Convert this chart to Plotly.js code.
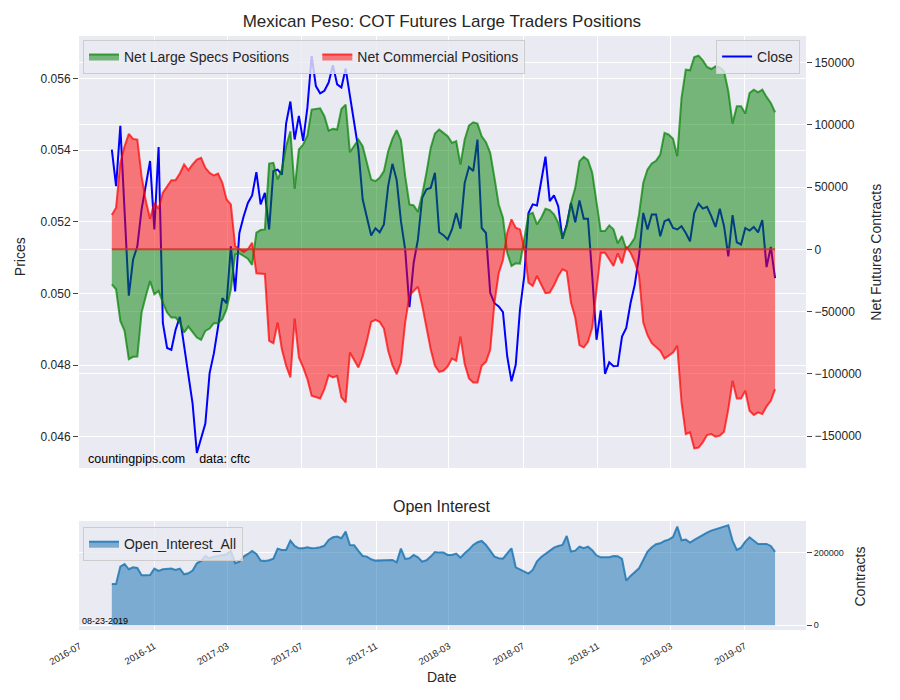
<!DOCTYPE html>
<html>
<head>
<meta charset="utf-8">
<script src="https://cdn.plot.ly/plotly-3.0.1.min.js"></script>
<style>
  body { margin: 0; background: #ffffff; }
  #chart { width: 900px; height: 700px; }
</style>
</head>
<body>
<div id="chart"></div>
<script>
// weekly COT report dates (Tuesdays)
const dates = [
  "2016-08-23", "2016-08-30", "2016-09-06", "2016-09-13", "2016-09-20", "2016-09-27", "2016-10-04", "2016-10-11",
  "2016-10-18", "2016-10-25", "2016-11-01", "2016-11-08", "2016-11-15", "2016-11-22", "2016-11-29", "2016-12-06",
  "2016-12-13", "2016-12-20", "2016-12-27",
  "2017-01-03", "2017-01-10", "2017-01-17", "2017-01-24", "2017-01-31", "2017-02-07", "2017-02-14", "2017-02-21",
  "2017-02-28", "2017-03-07", "2017-03-14", "2017-03-21", "2017-03-28", "2017-04-04", "2017-04-11", "2017-04-18",
  "2017-04-25", "2017-05-02", "2017-05-09", "2017-05-16", "2017-05-23", "2017-05-30", "2017-06-06", "2017-06-13",
  "2017-06-20", "2017-06-27", "2017-07-04", "2017-07-11", "2017-07-18", "2017-07-25", "2017-08-01", "2017-08-08",
  "2017-08-15", "2017-08-22", "2017-08-29", "2017-09-05", "2017-09-12", "2017-09-19", "2017-09-26", "2017-10-03",
  "2017-10-10", "2017-10-17", "2017-10-24", "2017-10-31", "2017-11-07", "2017-11-14", "2017-11-21", "2017-11-28",
  "2017-12-05", "2017-12-12", "2017-12-19", "2017-12-26",
  "2018-01-02", "2018-01-09", "2018-01-16", "2018-01-23", "2018-01-30", "2018-02-06", "2018-02-13", "2018-02-20",
  "2018-02-27", "2018-03-06", "2018-03-13", "2018-03-20", "2018-03-27", "2018-04-03", "2018-04-10", "2018-04-17",
  "2018-04-24", "2018-05-01", "2018-05-08", "2018-05-15", "2018-05-22", "2018-05-29", "2018-06-05", "2018-06-12",
  "2018-06-19", "2018-06-26", "2018-07-03", "2018-07-10", "2018-07-17", "2018-07-24", "2018-07-31", "2018-08-07",
  "2018-08-14", "2018-08-21", "2018-08-28", "2018-09-04", "2018-09-11", "2018-09-18", "2018-09-25", "2018-10-02",
  "2018-10-09", "2018-10-16", "2018-10-23", "2018-10-30", "2018-11-06", "2018-11-13", "2018-11-20", "2018-11-27",
  "2018-12-04", "2018-12-11", "2018-12-18", "2018-12-25",
  "2019-01-01", "2019-01-08", "2019-01-15", "2019-01-22", "2019-01-29", "2019-02-05", "2019-02-12", "2019-02-19",
  "2019-02-26", "2019-03-05", "2019-03-12", "2019-03-19", "2019-03-26", "2019-04-02", "2019-04-09", "2019-04-16",
  "2019-04-23", "2019-04-30", "2019-05-07", "2019-05-14", "2019-05-21", "2019-05-28", "2019-06-04", "2019-06-11",
  "2019-06-18", "2019-06-25", "2019-07-02", "2019-07-09", "2019-07-16", "2019-07-23", "2019-07-30", "2019-08-06",
  "2019-08-13", "2019-08-20",
];

// MXN futures close
const closePrice = [
  0.05402, 0.05300, 0.05468, 0.05235, 0.04994, 0.05095, 0.05132, 0.05235, 0.05300, 0.05370,
  0.05179, 0.05409, 0.04918, 0.04848, 0.04843, 0.04899, 0.04935, 0.04853, 0.04778, 0.04693,
  0.04555, 0.04596, 0.04637, 0.04778, 0.04833, 0.04908, 0.04987, 0.04973, 0.05132, 0.05006,
  0.05169, 0.05215, 0.05253, 0.05274, 0.05339, 0.05249, 0.05281, 0.05179, 0.05342, 0.05346,
  0.05332, 0.05475, 0.05536, 0.05430, 0.05496, 0.05426, 0.05519, 0.05663, 0.05579, 0.05559,
  0.05566, 0.05589, 0.05637, 0.05584, 0.05575, 0.05628, 0.05550, 0.05475, 0.05402, 0.05263,
  0.05211, 0.05162, 0.05182, 0.05171, 0.05193, 0.05300, 0.05362, 0.05317, 0.05202, 0.05123,
  0.04962, 0.05086, 0.05151, 0.05267, 0.05291, 0.05295, 0.05337, 0.05171, 0.05163, 0.05151,
  0.05179, 0.05225, 0.05181, 0.05309, 0.05353, 0.05342, 0.05430, 0.05183, 0.05169, 0.05002,
  0.04973, 0.04964, 0.04948, 0.04825, 0.04755, 0.04801, 0.04955, 0.05048, 0.05225, 0.05249,
  0.05246, 0.05319, 0.05382, 0.05258, 0.05274, 0.05244, 0.05153, 0.05193, 0.05253, 0.05199,
  0.05260, 0.05209, 0.05209, 0.05048, 0.04871, 0.04953, 0.04776, 0.04808, 0.04797, 0.04798,
  0.04880, 0.04904, 0.04973, 0.05025, 0.05104, 0.05225, 0.05179, 0.05221, 0.05221, 0.05160,
  0.05202, 0.05207, 0.05183, 0.05179, 0.05188, 0.05169, 0.05146, 0.05225, 0.05251, 0.05237,
  0.05242, 0.05216, 0.05186, 0.05237, 0.05188, 0.05104, 0.05219, 0.05143, 0.05137, 0.05183,
  0.05176, 0.05186, 0.05171, 0.05205, 0.05074, 0.05130, 0.05043,
];

// net large speculator positions (contracts)
const netSpecs = [
  -28077, -32088, -57491, -65513, -88242, -86370, -86100, -50806, -37436, -25403,
  -36099, -33425, -42784, -50806, -54817, -54817, -58828, -66850, -62037, -66315,
  -70861, -72733, -65513, -63641, -59363, -59363, -56154, -48132, -32088, -4011,
  -3209, -5348, -7487, -12568, 13370, 15509, 16044, 68989, 69524, 56154,
  64176, 82894, 94927, 48667, 80220, 84231, 91451, 112308, 112843, 113378,
  106960, 95462, 96799, 96264, 112843, 116319, 78081, 82894, 88242, 82894,
  70059, 56154, 54817, 57491, 62839, 78883, 88777, 95729, 87707, 58828,
  36099, 35297, 29949, 44121, 61502, 81557, 93055, 96264, 93590, 90916,
  85568, 86905, 68187, 88242, 99473, 102147, 101077, 90916, 86103, 77546,
  57491, 36099, 25403, -2674, -13370, -11231, -11498, 6685, 28077, 29414,
  20055, 25403, 32623, 31553, 28077, 21392, 9359, 18718, 37436, 49469,
  70861, 74337, 71663, 61502, 37436, 14707, 14707, 19253, 16044, 4813,
  10696, 0, 4011, 9359, 28077, 53480, 64176, 68989, 71128, 76209,
  93590, 92253, 88777, 74872, 121667, 144396, 143861, 154557, 155627, 151883,
  146535, 144931, 147070, 146268, 143059, 127015, 101077, 114982, 114982, 109099,
  125678, 128352, 126213, 128352, 122469, 117656, 110169,
];

// net commercial positions (contracts)
const netCommercial = [
  27542, 33425, 69524, 82894, 92788, 88777, 88242, 58828, 38773, 24601,
  37436, 32623, 45458, 50806, 55619, 55619, 60967, 68187, 63641, 68187,
  72198, 73535, 65513, 61502, 59363, 60967, 53480, 40110, 36099, 2674,
  0, -2139, 0, 5348, -19253, -19253, -19788, -73535, -75407, -58828,
  -80220, -93590, -102949, -55619, -86905, -94927, -104286, -117656, -118993, -119795,
  -112308, -101077, -102949, -101612, -118993, -123004, -82894, -88777, -94927, -86103,
  -73535, -58293, -56689, -58293, -63641, -81557, -93055, -100275, -90916, -58828,
  -36901, -33425, -29949, -44923, -63641, -80220, -93590, -98403, -97601, -94000,
  -87707, -89579, -70059, -92253, -103751, -106960, -106960, -93590, -90381, -80755,
  -42784, -19253, -8557, 13370, 24066, 17381, 16044, 1337, -26740, -29414,
  -21392, -28879, -35297, -34762, -28879, -21392, -16044, -17648, -42784, -54817,
  -77011, -78883, -74337, -62839, -32088, -2674, -2674, -8557, -13370, -3209,
  -11231, 2139, -2674, -10161, -20857, -58828, -68989, -75407, -78883, -81557,
  -87707, -85568, -82894, -77546, -123004, -148407, -147070, -159905, -159370, -155092,
  -149209, -148407, -150546, -149744, -146535, -128352, -105623, -119795, -119795, -113645,
  -129689, -133165, -131026, -132363, -126213, -121667, -112308,
];

// total open interest (contracts)
const openInterest = [
  113758, 113758, 161462, 168802, 154123, 159628, 157793, 137610, 137610, 138527,
  155958, 149536, 154123, 155958, 155958, 152288, 155958, 140362, 143114, 150454,
  170636, 177058, 190819, 184397, 188984, 190819, 192654, 195406, 205498, 170636,
  175223, 188984, 196324, 204580, 196324, 177976, 177058, 178893, 183480, 211002,
  207332, 207332, 233020, 218341, 211919, 211919, 214672, 211919, 212837, 214672,
  219259, 234854, 242194, 244028, 239441, 257789, 221093, 220176, 204580, 190819,
  188984, 181645, 177976, 177976, 177976, 179810, 179810, 173389, 211002, 182563,
  184397, 193571, 187150, 175223, 178893, 188984, 201828, 199993, 199993, 193571,
  193571, 197241, 186232, 198158, 208250, 221093, 228433, 232102, 221093, 205498,
  188984, 184397, 183480, 198158, 211919, 159628, 153206, 148619, 142197, 152288,
  176141, 188067, 197241, 206415, 213754, 218341, 221093, 245863, 202745, 205498,
  216506, 211919, 216506, 206415, 192654, 187150, 187150, 187150, 190819, 189901,
  182563, 122932, 135775, 147701, 156875, 179810, 202745, 214672, 222928, 225680,
  232102, 235772, 243111, 271550, 233937, 235772, 227515, 234854, 242194, 248615,
  255037, 260542, 264211, 266963, 271550, 275220, 233020, 207332, 213754, 230267,
  242194, 232102, 223846, 223846, 223846, 218341, 201828,
];

const priceTicks = [0.046, 0.048, 0.05, 0.052, 0.054, 0.056];
const oiTicks = [0, 200000];

const FONT = "Liberation Sans, Arial, sans-serif";
const TXT = "#262626";
const BG = "#eaeaf2";

let closeTrace = {
  x: dates,
  y: closePrice,
  xaxis: "x",
  yaxis: "y",
  mode: "lines",
  type: "scatter",
  name: "Close",
  legend: "legend2",
  line: { color: "#0000ff", width: 2 },
};

let specsTrace = {
  x: dates,
  y: netSpecs,
  xaxis: "x",
  yaxis: "y2",
  mode: "lines",
  type: "scatter",
  fill: "tozeroy",
  // trailing spaces widen the gap to the next legend entry
  name: "Net Large Specs Positions&nbsp;&nbsp;&nbsp;&nbsp;&nbsp;&nbsp;",
  fillcolor: "rgba(0,128,0,0.5)",
  line: { color: "rgba(0,128,0,0.7)", width: 2 },
};

let commTrace = {
  x: dates,
  y: netCommercial,
  xaxis: "x",
  yaxis: "y2",
  mode: "lines",
  type: "scatter",
  fill: "tozeroy",
  name: "Net Commercial Positions",
  fillcolor: "rgba(255,0,0,0.5)",
  line: { color: "rgba(255,0,0,0.7)", width: 2 },
};

let oiTrace = {
  x: dates,
  y: openInterest,
  xaxis: "x2",
  yaxis: "y3",
  mode: "lines",
  type: "scatter",
  fill: "tozeroy",
  name: "Open_Interest_All",
  legend: "legend3",
  fillcolor: "rgba(31,119,180,0.55)",
  line: { color: "rgba(31,119,180,0.85)", width: 2 },
};

const xRange = ["2016-06-30", "2019-10-10"];
const xDomain = [0.0878, 0.8956];

let legendStyle = {
  orientation: "h",
  xanchor: "left",
  yanchor: "top",
  bgcolor: "rgba(234,234,242,0.8)",
  bordercolor: "#cccccc",
  borderwidth: 1,
  font: { family: FONT, size: 14, color: TXT },
};

// helper for free text placed in paper coordinates
const label = (text, x, y, size, extra) => ({
  text: text,
  xref: "paper",
  yref: "paper",
  x: x,
  y: y,
  xanchor: "center",
  yanchor: "middle",
  showarrow: false,
  font: { family: FONT, size: size, color: TXT },
  ...extra,
});

let layout = {
  width: 900,
  height: 700,
  margin: { l: 0, r: 0, t: 0, b: 0 },
  paper_bgcolor: "#ffffff",
  plot_bgcolor: BG,
  font: { family: FONT, color: TXT },
  title: {
    text: "Mexican Peso: COT Futures Large Traders Positions",
    x: 0.491,
    y: 0.97,
    xanchor: "center",
    yanchor: "middle",
    font: { family: FONT, size: 17, color: TXT },
  },
  showlegend: true,
  legend: { ...legendStyle, x: 0.0922, y: 0.943 },
  legend2: { ...legendStyle, x: 0.889, xanchor: "right", y: 0.943 },
  legend3: { ...legendStyle, x: 0.0922, y: 0.247 },
  xaxis: {
    domain: xDomain,
    anchor: "y",
    type: "date",
    range: xRange,
    tick0: "2016-07-01",
    dtick: "M4",
    showticklabels: false,
    gridcolor: "#ffffff",
    gridwidth: 1,
    zeroline: false,
    showline: false,
  },
  yaxis: {
    domain: [0.3314, 0.9486],
    anchor: "x",
    range: [0.04513, 0.05719],
    tickvals: priceTicks,
    tickformat: ".3f",
    ticks: "outside",
    ticklen: 5,
    tickcolor: "#444444",
    tickfont: { family: FONT, size: 12, color: TXT },
    gridcolor: "#ffffff",
    zeroline: false,
    showline: false,
  },
  yaxis2: {
    overlaying: "y",
    side: "right",
    anchor: "x",
    range: [-175723, 171463],
    tick0: 0,
    dtick: 50000,
    tickformat: "d",
    ticks: "outside",
    ticklen: 5,
    tickcolor: "#444444",
    tickfont: { family: FONT, size: 12, color: TXT },
    gridcolor: "#ffffff",
    zeroline: false,
    showline: false,
  },
  xaxis2: {
    domain: xDomain,
    anchor: "y3",
    type: "date",
    range: xRange,
    tick0: "2016-07-01",
    dtick: "M4",
    tickformat: "%Y-%m",
    tickangle: -30,
    ticklabelstandoff: 8,
    tickfont: { family: FONT, size: 9.5, color: TXT },
    gridcolor: "#ffffff",
    zeroline: false,
    showline: false,
  },
  yaxis3: {
    domain: [0.1, 0.2557],
    anchor: "x2",
    side: "right",
    range: [-13000, 287000],
    tickvals: oiTicks,
    tickformat: "d",
    ticks: "outside",
    ticklen: 5,
    tickcolor: "#444444",
    tickfont: { family: FONT, size: 9, color: TXT },
    gridcolor: "#ffffff",
    zeroline: false,
    showline: false,
  },
  shapes: [
    {
      // outline of the two fills along zero
      type: "line",
      xref: "x",
      yref: "y2",
      x0: dates[0],
      x1: dates[dates.length - 1],
      y0: 0,
      y1: 0,
      line: { color: "rgba(205,50,35,0.85)", width: 2 },
    },
  ],
  annotations: [
    label("Open Interest", 0.491, 0.277, 16),
    label("Prices", 0.0222, 0.634, 14, { textangle: -90 }),
    label("Net Futures Contracts", 0.973, 0.64, 14, { textangle: -90 }),
    label("Contracts", 0.956, 0.177, 14, { textangle: -90 }),
    label("Date", 0.491, 0.033, 14),
    label("countingpips.com&nbsp;&nbsp;&nbsp;&nbsp;data: cftc", 0.0956, 0.344, 12.5, {
      xanchor: "left",
      font: { family: FONT, size: 12.5, color: "#000000" },
    }),
    label("08-23-2019", 0.0889, 0.113, 9, {
      xanchor: "left",
      font: { family: FONT, size: 9, color: "#000000" },
    }),
  ],
};

let config = { displayModeBar: false, staticPlot: true };

Plotly.newPlot("chart", [closeTrace, specsTrace, commTrace, oiTrace], layout, config);
</script>
</body>
</html>
